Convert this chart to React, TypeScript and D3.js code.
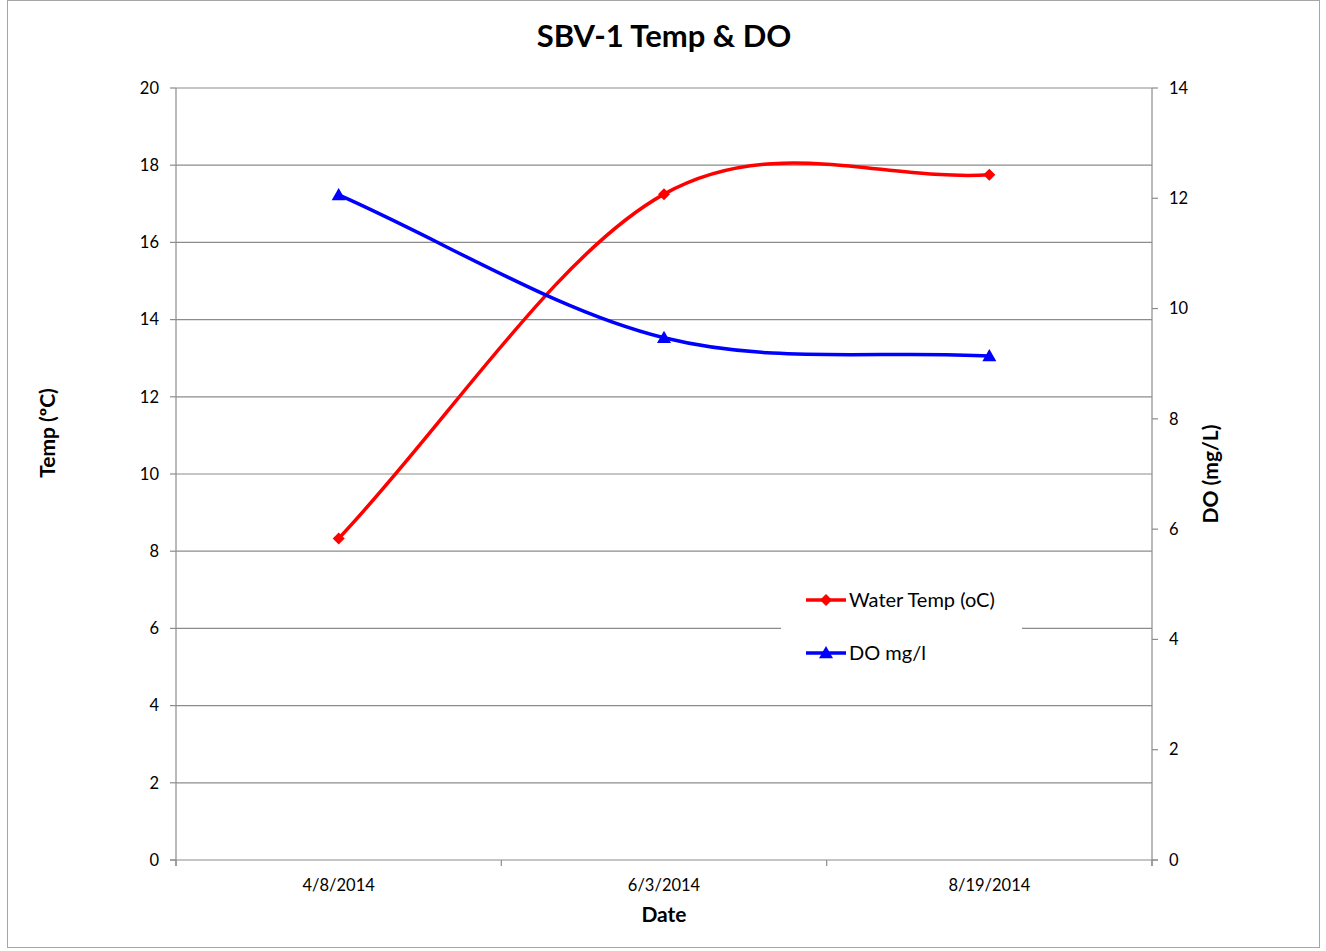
import React from "react";
import * as d3 from "d3";

const categories = ["4/8/2014", "6/3/2014", "8/19/2014"];
const tempValues = [8.33, 17.25, 17.75];
const doValues = [12.06, 9.47, 9.14];
const leftTicks = [0, 2, 4, 6, 8, 10, 12, 14, 16, 18, 20];
const rightTicks = [0, 2, 4, 6, 8, 10, 12, 14];

const W = 1326;
const H = 951;
const FONT = "Lato, 'Open Sans', 'Liberation Sans', sans-serif";

// Excel-style smoothing: cubic Bezier, tangents (P[i+1]-P[i-1])/6, reflected phantom endpoints
function smoothPath(pts: [number, number][]): string {
  const n = pts.length;
  const get = (i: number): [number, number] => {
    if (i < 0) return [2 * pts[0][0] - pts[1][0], 2 * pts[0][1] - pts[1][1]];
    if (i >= n) return [2 * pts[n - 1][0] - pts[n - 2][0], 2 * pts[n - 1][1] - pts[n - 2][1]];
    return pts[i];
  };
  const p = d3.path();
  p.moveTo(pts[0][0], pts[0][1]);
  for (let i = 0; i < n - 1; i++) {
    const p0 = get(i - 1), p1 = get(i), p2 = get(i + 1), p3 = get(i + 2);
    p.bezierCurveTo(
      p1[0] + (p2[0] - p0[0]) / 6, p1[1] + (p2[1] - p0[1]) / 6,
      p2[0] - (p3[0] - p1[0]) / 6, p2[1] - (p3[1] - p1[1]) / 6,
      p2[0], p2[1]
    );
  }
  return p.toString();
}

export default function App() {
  const L = 176, R = 1152, T = 88, B = 860;
  const x = d3.scaleBand<string>().domain(categories).range([L, R]).padding(0);
  const yL = d3.scaleLinear().domain([0, 20]).range([B, T]);
  const yR = d3.scaleLinear().domain([0, 14]).range([B, T]);
  const cx = (c: string) => (x(c) as number) + x.bandwidth() / 2;

  const tempPts: [number, number][] = categories.map((c, i) => [cx(c), yL(tempValues[i])]);
  const doPts: [number, number][] = categories.map((c, i) => [cx(c), yR(doValues[i])]);

  const diamond = (px: number, py: number, s = 6) =>
    `M${px},${py - s}L${px + s},${py}L${px},${py + s}L${px - s},${py}Z`;
  const tri = (px: number, py: number, s = 7) =>
    `M${px},${py - s}L${px + s},${py + s * 0.75}L${px - s},${py + s * 0.75}Z`;

  const boundaries = [L, ...categories.map((c) => (x(c) as number) + x.bandwidth())];

  return (
    <svg width={W} height={H} style={{ display: "block", position: "absolute", left: 0, top: 0 }} fontFamily={FONT}>
      <rect x={0} y={0} width={W} height={H} fill="#fff" />
      <rect x={7.5} y={0.5} width={1312} height={947} fill="#fff" stroke="#a6a6a6" strokeWidth={1} />
      <text x={664} y={47} textAnchor="middle" fontSize={31} fontWeight="bold" fill="#000">SBV-1 Temp &amp; DO</text>

      {leftTicks.slice(1).map((t) => (
        <line key={"g" + t} x1={L} x2={R} y1={yL(t)} y2={yL(t)} stroke="#8c8c8c" strokeWidth={1.2} />
      ))}
      <line x1={L} x2={L} y1={T} y2={B + 6} stroke="#8c8c8c" strokeWidth={1.2} />
      <line x1={R} x2={R} y1={T} y2={B + 6} stroke="#8c8c8c" strokeWidth={1.2} />
      <line x1={L - 6} x2={R + 6} y1={B} y2={B} stroke="#8c8c8c" strokeWidth={1.2} />
      {leftTicks.map((t) => (
        <g key={"l" + t}>
          <line x1={L - 6} x2={L} y1={yL(t)} y2={yL(t)} stroke="#8c8c8c" strokeWidth={1.2} />
          <text x={L - 17} y={yL(t)} dy="0.35em" textAnchor="end" fontSize={16.5} fill="#000">{t}</text>
        </g>
      ))}
      {rightTicks.map((t) => (
        <g key={"r" + t}>
          <line x1={R} x2={R + 6} y1={yR(t)} y2={yR(t)} stroke="#8c8c8c" strokeWidth={1.2} />
          <text x={R + 17} y={yR(t)} dy="0.35em" textAnchor="start" fontSize={16.5} fill="#000">{t}</text>
        </g>
      ))}
      {boundaries.map((b, i) => (
        <line key={"b" + i} x1={b} x2={b} y1={B} y2={B + 6} stroke="#8c8c8c" strokeWidth={1.2} />
      ))}
      {categories.map((c) => (
        <text key={c} x={cx(c)} y={891} textAnchor="middle" fontSize={16.5} fill="#000">{c}</text>
      ))}
      <text x={664} y={922} textAnchor="middle" fontSize={21} fontWeight="bold" fill="#000">Date</text>
      <text transform="translate(55,433) rotate(-90)" textAnchor="middle" fontSize={21} fontWeight="bold" fill="#000">Temp (ºC)</text>
      <text transform="translate(1218,474) rotate(-90)" textAnchor="middle" fontSize={21} fontWeight="bold" fill="#000">DO (mg/L)</text>

      <path d={smoothPath(tempPts)} fill="none" stroke="#ff0000" strokeWidth={3.5} />
      <path d={smoothPath(doPts)} fill="none" stroke="#0000ff" strokeWidth={3.5} />
      {tempPts.map((p, i) => <path key={"tm" + i} d={diamond(p[0], p[1])} fill="#ff0000" />)}
      {doPts.map((p, i) => <path key={"dm" + i} d={tri(p[0], p[1])} fill="#0000ff" />)}

      <rect x={781} y={576} width={241} height={104} fill="#fff" />
      <line x1={806} x2={846} y1={600} y2={600} stroke="#ff0000" strokeWidth={3.5} />
      <path d={diamond(826, 600)} fill="#ff0000" />
      <text x={849} y={600} dy="0.35em" fontSize={20} fill="#000">Water Temp (oC)</text>
      <line x1={806} x2={846} y1={653} y2={653} stroke="#0000ff" strokeWidth={3.5} />
      <path d={tri(826, 653)} fill="#0000ff" />
      <text x={849} y={653} dy="0.35em" fontSize={20} fill="#000">DO mg/l</text>
    </svg>
  );
}
